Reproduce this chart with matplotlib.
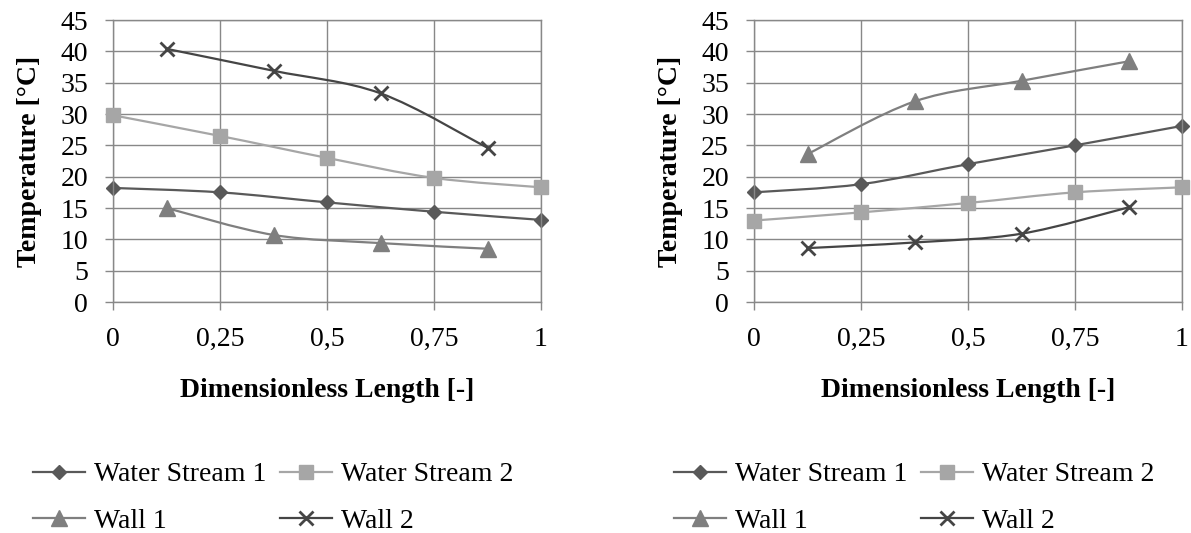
import numpy as np
import matplotlib
matplotlib.use("Agg")
import matplotlib.pyplot as plt
from matplotlib.path import Path
from matplotlib.patches import PathPatch
from matplotlib.lines import Line2D

# ---------------- data ----------------
x_stream = [0, 0.25, 0.5, 0.75, 1]
x_wall = [0.125, 0.375, 0.625, 0.875]

left_ws1 = [18.2, 17.5, 15.9, 14.4, 13.1]
left_ws2 = [29.8, 26.5, 23.0, 19.8, 18.3]
left_wall1 = [15.0, 10.7, 9.4, 8.5]
left_wall2 = [40.4, 36.9, 33.3, 24.6]

right_ws1 = [17.5, 18.8, 22.0, 25.0, 28.1]
right_ws2 = [13.0, 14.3, 15.8, 17.5, 18.3]
right_wall1 = [23.6, 32.0, 35.3, 38.4]
right_wall2 = [8.6, 9.5, 10.9, 15.1]

series_names = ["Water Stream 1", "Water Stream 2", "Wall 1", "Wall 2"]
x_ticks = [0, 0.25, 0.5, 0.75, 1]
x_ticklabels = ["0", "0,25", "0,5", "0,75", "1"]
y_ticks = list(range(0, 50, 5))
x_title = "Dimensionless Length [-]"
y_title = "Temperature [°C]"

# ---------------- style ----------------
plt.rcParams['font.family'] = ['Liberation Serif', 'DejaVu Serif']
FS = 20
colors = ["#595959", "#a6a6a6", "#7f7f7f", "#454545"]
markers = ["D", "s", "^", "x"]
msizes = [7.0, 10.5, 11.0, 10.5]
grid_c = "#888888"
LW = 1.6


def smooth_path(x, y):
    pts = np.column_stack([x, y]).astype(float)
    n = len(pts)
    verts = [pts[0]]
    codes = [Path.MOVETO]
    for i in range(n - 1):
        p0 = pts[i - 1] if i > 0 else pts[i]
        p1 = pts[i]
        p2 = pts[i + 1]
        p3 = pts[i + 2] if i + 2 < n else pts[i + 1]
        c1 = p1 + (p2 - p0) / 6.0
        c2 = p2 - (p3 - p1) / 6.0
        verts += [c1, c2, p2]
        codes += [Path.CURVE4] * 3
    return Path(verts, codes)


fig = plt.figure(figsize=(11.91, 5.33), dpi=100)
W, H = 1191, 533


def make_axes(left_px, series):
    ax = fig.add_axes([left_px / W, 1 - 302 / H, 428 / W, 282 / H])
    ax.set_xlim(0, 1)
    ax.set_ylim(0, 45)
    ax.set_xticks(x_ticks)
    ax.set_xticklabels(x_ticklabels)
    ax.set_yticks(y_ticks)
    ax.grid(True, color=grid_c, lw=1.0, zorder=0)
    ax.set_axisbelow(True)
    for s in ax.spines.values():
        s.set_color(grid_c)
        s.set_linewidth(1.0)
    ax.tick_params(axis='both', direction='out', length=6, width=1.0,
                   color=grid_c, labelsize=FS, labelcolor='black')
    ax.tick_params(axis='x', pad=12)
    ax.tick_params(axis='y', pad=12)
    for k, (xs, ys) in enumerate(series):
        patch = PathPatch(smooth_path(xs, ys), fill=False, edgecolor=colors[k],
                          lw=LW, zorder=2 + k, capstyle='round', joinstyle='round')
        ax.add_patch(patch)
        ax.plot(xs, ys, linestyle='none', marker=markers[k], ms=msizes[k],
                color=colors[k], mec=colors[k], mew=2.0 if markers[k] == 'x' else 1.0,
                zorder=2.5 + k, clip_on=False)
    ax.set_xlabel(x_title, fontsize=FS, fontweight='bold')
    ax.set_ylabel(y_title, fontsize=FS, fontweight='bold')
    ax.xaxis.set_label_coords(0.5, -0.27)
    ax.yaxis.set_label_coords(-0.165, 0.5)
    handles = [Line2D([], [], color=colors[k], lw=LW, marker=markers[k],
                      ms=msizes[k], mew=2.0 if markers[k] == 'x' else 1.0)
               for k in range(4)]
    # row-wise order: (WS1, WS2) / (Wall 1, Wall 2)
    order = [0, 2, 1, 3]
    fig.legend([handles[i] for i in order], [series_names[i] for i in order],
               loc='upper left', ncol=2,
               bbox_to_anchor=((left_px - 80) / W, 1 - 462 / H),
               frameon=False, fontsize=FS, borderpad=0, borderaxespad=0,
               handlelength=1.87, handletextpad=0.32, columnspacing=0.5,
               labelspacing=0.75)
    return ax


make_axes(113, [(x_stream, left_ws1), (x_stream, left_ws2),
                (x_wall, left_wall1), (x_wall, left_wall2)])
make_axes(754, [(x_stream, right_ws1), (x_stream, right_ws2),
                (x_wall, right_wall1), (x_wall, right_wall2)])

fig.savefig("out.png", dpi=100)
